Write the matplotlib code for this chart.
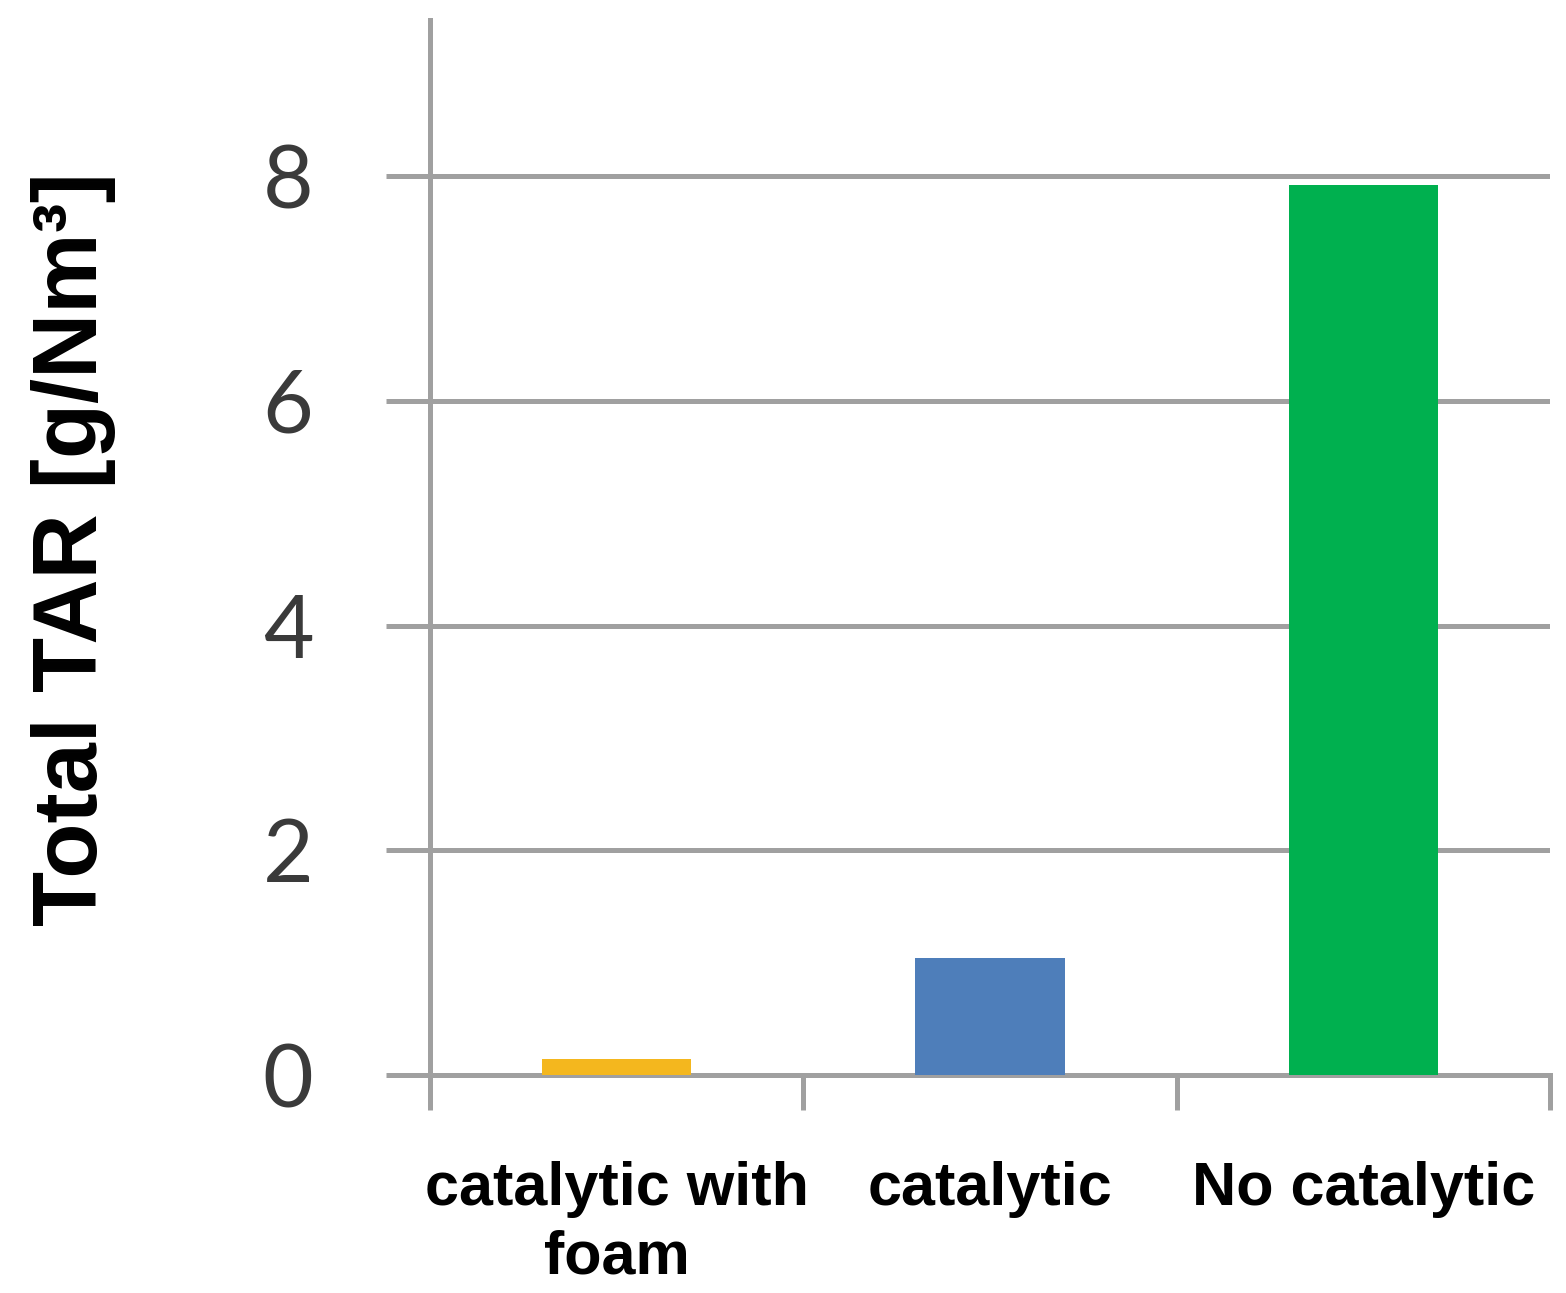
import matplotlib.pyplot as plt
import numpy as np

categories = ['catalytic with\nfoam', 'catalytic', 'No catalytic']
tar = [0.14, 1.04, 7.92]
colors = ['#F4B71E', '#4E7EBA', '#00B04F']
yticks = [0, 2, 4, 6, 8]

grey = '#a0a0a0'

fig = plt.figure(figsize=(15.66, 12.93), dpi=100)
ax = fig.add_axes([0.2746, 0.1686, 0.9898 - 0.2746, 0.9845 - 0.1686])

x = np.arange(len(categories))
ax.bar(x, tar, width=0.4, color=colors, zorder=3)

ax.set_xlim(-0.5, len(categories) - 0.5)
ax.set_ylim(0, 9.39)

# horizontal gridlines, with the y ticks sticking out to the left
ax.set_yticks(yticks)
ax.yaxis.grid(True, color=grey, linewidth=3.6, zorder=1)
ax.tick_params(axis='y', length=32, width=3.6, color=grey, pad=52,
               labelsize=63, labelcolor='#3a3a3a')
for lab in ax.get_yticklabels():
    lab.set_fontfamily('Lato')

# category labels at the bar centres, tick marks on the boundaries
ax.set_xticks(x)
ax.set_xticklabels(categories, fontsize=44, fontweight='bold',
                   fontfamily='Liberation Sans', linespacing=1.25)
ax.set_xticks(np.arange(len(categories) + 1) - 0.5, minor=True)
ax.tick_params(axis='x', which='major', length=0, pad=62)
ax.tick_params(axis='x', which='minor', length=25, width=3.6, color=grey)

for side in ['top', 'right']:
    ax.spines[side].set_visible(False)
for side in ['left', 'bottom']:
    ax.spines[side].set_color(grey)
    ax.spines[side].set_linewidth(3.6)

fig.text(0.047, 0.575, 'Total TAR [g/Nm³]', rotation=90, fontsize=65,
         fontweight='bold', fontfamily='Liberation Sans',
         ha='center', va='center')

plt.savefig('out.png', dpi=100)
